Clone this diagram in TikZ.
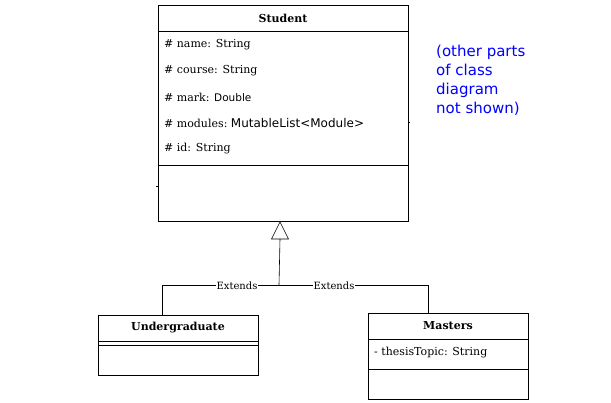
\documentclass[tikz,border=0pt]{standalone}
\usepackage{fontspec}
\setmainfont{DejaVu Serif}
\newfontfamily\dejavu{DejaVu Sans}
\usetikzlibrary{positioning}

\begin{document}
\begin{tikzpicture}[x=1pt,y=-1pt,
  box/.style={draw, line width=0.6pt},
  title/.style={font=\fontsize{11}{12}\selectfont\bfseries},
  attr/.style={anchor=west, font=\fontsize{11}{12}\selectfont, inner sep=0pt},
  lbl/.style={fill=white, font=\fontsize{10}{11}\selectfont, inner sep=0.5pt},
  line/.style={line width=0.6pt}]

\useasboundingbox (0,0) rectangle (611,403);

% Student class
\draw[box] (158,5) rectangle (408,221);
\draw[line] (158,31) -- (408,31);
\draw[line] (158,165) -- (408,165);
\draw[line] (408,122) -- (410,122);
\draw[line] (156,186) -- (158,186);
\node[title] (student) at (283,18) {Student};
\node[attr] (name) at (164,45) {\# name: String};
\node[attr] (course) at (164,71) {\# course: String};
\node[attr] (mark) at (164,97) {\# mark: {\dejavu\fontsize{10.5}{12}\selectfont Double}};
\node[attr] (modules) at (164,123) {\# modules:\ {\dejavu\fontsize{12}{13}\selectfont MutableList<Module>}};
\node[attr] (id) at (164,149) {\# id: String};

% Note
\node[anchor=north west, align=left, text=blue, inner sep=0pt,
  font=\dejavu\fontsize{15}{19}\selectfont] (note) at (436,45)
  {(other parts\\of class\\diagram\\not shown)};

% Undergraduate class
\draw[box] (98,315) rectangle (258,375);
\draw[line] (98,341) -- (258,341);
\draw[line] (98,345) -- (258,345);
\node[title] (ugrad) at (178,328) {Undergraduate};

% Masters class
\draw[box] (368,313) rectangle (528,399);
\draw[line] (368,339) -- (528,339);
\draw[line] (368,369) -- (528,369);
\node[title] (masters) at (448,326) {Masters};
\node[attr] (topic) at (374,353) {- thesisTopic: String};

% Generalisation
\coordinate (tip) at (280,222);
\coordinate (base) at (280,239);
\coordinate (join) at (279,285);
\draw[line] (tip) -- (271.5,239) -- (288.5,239) -- cycle;
\draw[line] (base) -- (join);
\draw[line] (162,315) -- (162,285) -- (428,285) -- (428,313);
\node[lbl] (ext1) at (237,286) {Extends};
\node[lbl] (ext2) at (334,286) {Extends};

\end{tikzpicture}
\end{document}
